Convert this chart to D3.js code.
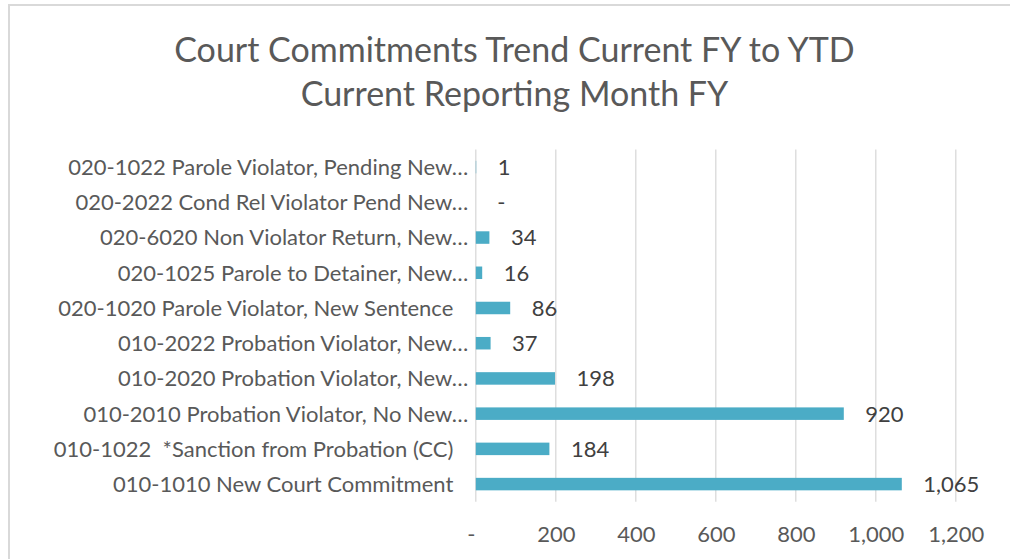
<!DOCTYPE html>
<html>
<head>
<meta charset="utf-8">
<script src="https://cdn.jsdelivr.net/npm/d3@7"></script>
<style>
  html, body { margin: 0; padding: 0; background: #fff; }
  svg { display: block; }
  text { font-family: Lato, "Open Sans", sans-serif; white-space: pre; }
</style>
</head>
<body>
<svg id="chart" width="1010" height="559"></svg>
<script>
const titleLines = ["Court Commitments Trend Current FY to YTD", "Current Reporting Month FY"];
const categories = [
  "020-1022 Parole Violator, Pending New…",
  "020-2022 Cond Rel Violator Pend New…",
  "020-6020 Non Violator Return, New…",
  "020-1025 Parole to Detainer, New…",
  "020-1020 Parole Violator, New Sentence",
  "010-2022 Probation Violator, New…",
  "010-2020 Probation Violator, New…",
  "010-2010 Probation Violator, No New…",
  "010-1022  *Sanction from Probation (CC)",
  "010-1010 New Court Commitment"
];
const values = [1, 0, 34, 16, 86, 37, 198, 920, 184, 1065];
const xTicks = [0, 200, 400, 600, 800, 1000, 1200];

const svg = d3.select("#chart");
const W = 1010, H = 559;
const plot = { left: 475.8, right: 955.8, top: 149.5, bottom: 501.7 };

// chart border
svg.append("rect")
  .attr("x", 9).attr("y", 5)
  .attr("width", W).attr("height", H)
  .attr("fill", "#fff").attr("stroke", "#d9d9d9").attr("stroke-width", 2);

// title
svg.append("g").selectAll("text").data(titleLines).join("text")
  .attr("x", 514.5)
  .attr("y", (d, i) => 62 + i * 43.5)
  .attr("text-anchor", "middle")
  .attr("fill", "#595959")
  .attr("font-size", 34)
  .text(d => d);

const x = d3.scaleLinear().domain([0, 1200]).range([plot.left, plot.right]);
const y = d3.scaleBand().domain(categories).range([plot.top, plot.bottom])
  .paddingInner(0.645).paddingOuter(0.3225);

// gridlines
svg.append("g").selectAll("line").data(xTicks).join("line")
  .attr("x1", d => x(d)).attr("x2", d => x(d))
  .attr("y1", plot.top).attr("y2", plot.bottom)
  .attr("stroke", "#d9d9d9").attr("stroke-width", 1.3);

// x axis
const xAxis = d3.axisBottom(x).tickValues(xTicks).tickSize(0).tickPadding(25)
  .tickFormat(d => d === 0 ? "-" : d3.format(",")(d));
const gx = svg.append("g").attr("transform", `translate(0,${plot.bottom})`).call(xAxis);
gx.select(".domain").remove();
gx.selectAll("text")
  .attr("font-family", "Lato, sans-serif")
  .attr("font-size", 22)
  .attr("fill", "#595959")
  .attr("dx", d => d === 0 ? -5 : 0);

// bars
svg.append("g").selectAll("rect").data(values).join("rect")
  .attr("x", x(0))
  .attr("y", (d, i) => y(categories[i]))
  .attr("width", d => x(d) - x(0))
  .attr("height", y.bandwidth())
  .attr("fill", "#4bacc6");

// category labels
svg.append("g").selectAll("text").data(categories).join("text")
  .attr("x", x(0) - 7.5)
  .attr("dx", d => d.endsWith("…") ? 0 : -15)
  .attr("y", d => y(d) + y.bandwidth() / 2)
  .attr("dy", "0.36em")
  .attr("text-anchor", "end")
  .attr("fill", "#595959")
  .attr("font-size", 22)
  .text(d => d);

// data labels
svg.append("g").selectAll("text").data(values).join("text")
  .attr("x", d => x(d) + 21.5)
  .attr("y", (d, i) => y(categories[i]) + y.bandwidth() / 2)
  .attr("dy", "0.36em")
  .attr("fill", "#404040")
  .attr("font-size", 22)
  .text(d => d === 0 ? "-" : d3.format(",")(d));
</script>
</body>
</html>
